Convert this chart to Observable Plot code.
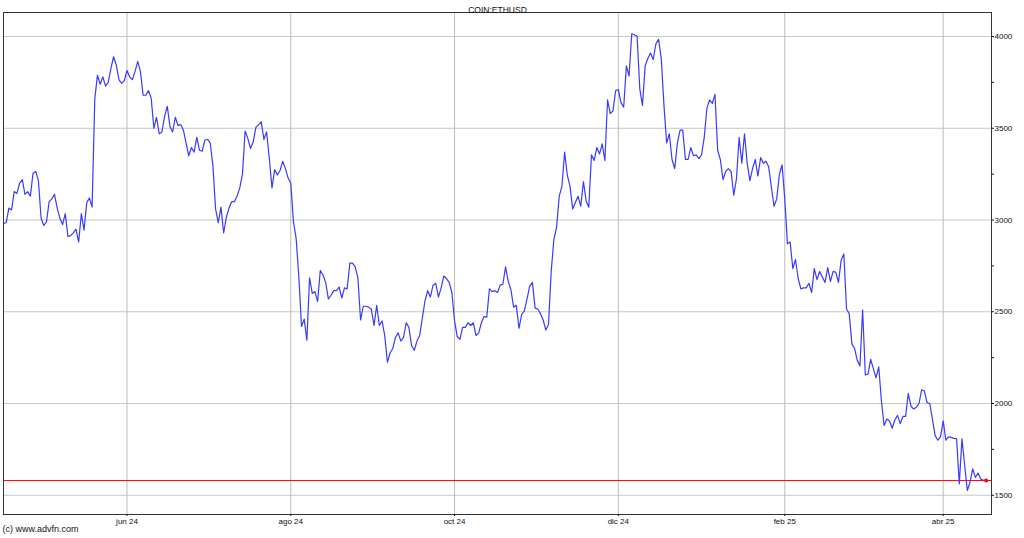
<!DOCTYPE html>
<html><head><meta charset="utf-8">
<script src="https://cdn.jsdelivr.net/npm/d3@7"></script>
<script src="https://cdn.jsdelivr.net/npm/@observablehq/plot@0.6"></script>
<style>html,body{margin:0;padding:0;background:#fff;} #chart svg{display:block}</style>
</head><body><div id="chart"></div>
<script>
const title = "COIN:ETHUSD";
const caption = "(c) www.advfn.com";

// Daily closes (USD)
const apr24 = [2982,2985,3065,3055,3155,3145,3200,3220,3140,3155,3130,3255,3265,3215,3010];
const may24 = [2970,2990,3100,3115,3140,3065,3010,2975,3035,2910,2915,2930,2950,2880,3035,2945,3095,3120,3070,3660,3790,3740,3780,3730,3750,3825,3890,3845,3765,3745,3760];
const jun24 = [3815,3780,3765,3810,3865,3810,3680,3680,3705,3665,3500,3560,3470,3480,3565,3620,3510,3480,3560,3515,3520,3490,3420,3350,3395,3370,3450,3380,3375,3435];
const jul24 = [3440,3420,3295,3060,2985,3070,2930,3015,3065,3100,3100,3130,3175,3250,3485,3445,3390,3425,3505,3520,3535,3440,3480,3335,3175,3275,3245,3270,3320,3280,3230];
const aug24 = [3200,2990,2900,2690,2420,2460,2345,2685,2600,2610,2555,2725,2700,2660,2570,2590,2615,2615,2635,2575,2630,2625,2765,2765,2745,2685,2455,2530,2530,2525,2515];
const sep24 = [2425,2535,2425,2450,2370,2225,2275,2300,2360,2385,2340,2360,2440,2415,2315,2290,2340,2370,2465,2560,2615,2580,2645,2655,2580,2630,2695,2680,2660,2605];
const oct24 = [2450,2365,2350,2415,2415,2440,2425,2440,2370,2385,2440,2475,2470,2625,2610,2615,2605,2645,2650,2745,2665,2620,2525,2535,2410,2485,2505,2570,2640,2660,2520];
const nov24 = [2515,2490,2455,2400,2430,2720,2895,2960,3130,3185,3370,3245,3185,3060,3095,3130,3075,3210,3105,3070,3355,3325,3395,3360,3415,3325,3655,3580,3595,3705];
const dec24 = [3710,3640,3615,3840,3785,4015,4010,4000,3715,3625,3840,3880,3910,3875,3960,3985,3880,3625,3420,3470,3330,3280,3420,3490,3490,3330,3330,3395,3350,3355,3335];
const jan25 = [3355,3450,3610,3655,3635,3685,3380,3330,3220,3265,3280,3265,3135,3225,3450,3310,3470,3310,3215,3280,3330,3240,3340,3310,3320,3290,3180,3075,3115,3250,3300];
const feb25 = [3115,2870,2880,2735,2785,2680,2625,2630,2630,2655,2605,2735,2675,2720,2690,2660,2740,2665,2720,2715,2660,2780,2815,2515,2490,2325,2300,2235];
const mar25 = [2205,2510,2155,2160,2240,2190,2140,2200,2015,1880,1915,1905,1865,1910,1935,1890,1930,1930,2055,1985,1970,1980,2000,2075,2068,2005,2000,1915,1825,1800,1818];
const apr25 = [1905,1800,1818,1815,1810,1807,1562,1807,1665,1526,1571,1644,1597,1621,1588,1582,1580];

// [year, monthIndex, firstDay, values]
const periods = [
  [2024,3,16,apr24],[2024,4,1,may24],[2024,5,1,jun24],[2024,6,1,jul24],
  [2024,7,1,aug24],[2024,8,1,sep24],[2024,9,1,oct24],[2024,10,1,nov24],
  [2024,11,1,dec24],[2025,0,1,jan25],[2025,1,1,feb25],[2025,2,1,mar25],[2025,3,1,apr25]
];

const lastPrice = 1580;
const yTicks = [1500,2000,2500,3000,3500,4000];
const yMinorTicks = [1750,2250,2750,3250,3750];
const xTickLabels = ["jun 24","ago 24","oct 24","dic 24","feb 25","abr 25"];
const xTickDates = [[2024,5],[2024,7],[2024,9],[2024,11],[2025,1],[2025,3]].map(([y,m]) => new Date(Date.UTC(y,m,1)));

const data = periods.flatMap(([y,m,d0,vals]) => vals.map((v,i) => ({date: new Date(Date.UTC(y,m,d0+i)), close: v})));
const last = data[data.length-1];

const fmtX = d => xTickLabels[xTickDates.findIndex(t => +t === +d)];

const chart = Plot.plot({
  width: 1024, height: 538,
  marginTop: 12, marginBottom: 24, marginLeft: 3, marginRight: 33,
  style: {fontFamily: "'Liberation Sans', Arial, sans-serif", fontSize: "8px", color: "#111", background: "#fff"},
  x: {type: "utc", domain: [new Date(Date.UTC(2024,3,16)), new Date(Date.UTC(2025,3,19))]},
  y: {domain: [1395, 4131]},
  marks: [
    Plot.gridY(yTicks, {stroke: "#c2caca", strokeOpacity: 1, strokeWidth: 1}),
    Plot.gridX(xTickDates, {stroke: "#bdbdbd", strokeOpacity: 1, strokeWidth: 1}),
    Plot.ruleY([lastPrice], {stroke: "#ff0000", strokeWidth: 1}),
    Plot.lineY(data, {x: "date", y: "close", stroke: "#3a3aff", strokeWidth: 1.2}),
    Plot.dot([last], {x: "date", y: "close", r: 2, fill: "#ff0000", stroke: null}),
    Plot.frame({stroke: "#333", strokeWidth: 1}),
    Plot.axisY(yTicks, {anchor: "right", tickSize: 2, tickPadding: 1, label: null, tickFormat: d => String(d), fontSize: 8}),
    Plot.axisY(yMinorTicks, {anchor: "right", tickSize: 2, tickFormat: () => "", label: null}),
    Plot.axisX(xTickDates, {anchor: "bottom", tickSize: 2, tickPadding: 2, label: null, tickFormat: fmtX, fontSize: 8}),
    Plot.text([title], {text: d => d, frameAnchor: "top", dy: -6, fontSize: 8.5, fill: "#111"}),
    Plot.text([caption], {text: d => d, frameAnchor: "bottom-left", dy: 17, dx: -1, textAnchor: "start", fontSize: 9, fill: "#111"})
  ]
});
document.getElementById("chart").appendChild(chart);
</script>
</body></html>
